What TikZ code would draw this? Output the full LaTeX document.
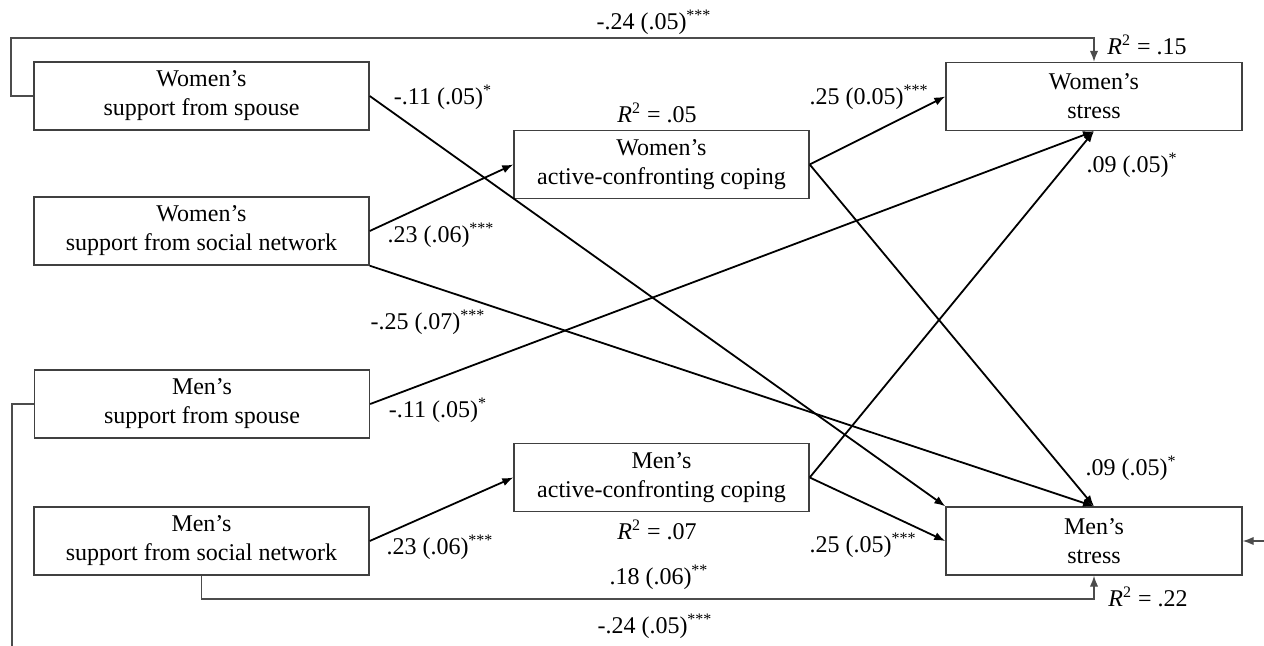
\documentclass[tikz,border=0pt]{standalone}
\usepackage{fontspec}
\setmainfont{Liberation Serif}
\usetikzlibrary{arrows.meta,calc}
\begin{document}
\begin{tikzpicture}[x=0.5pt,y=-0.5pt,
  box/.style={draw=black!75, line width=0.7pt, align=center, inner sep=0pt,
    font=\fontsize{12}{14.5}\selectfont},
  lbox/.style={box, minimum width=167.5pt, minimum height=34pt},
  cbox/.style={box, minimum width=147.5pt, minimum height=34pt},
  sbox/.style={box, minimum width=148pt, minimum height=34pt},
  arr/.style={-{Latex[length=5.5pt,width=4.2pt]}, line width=0.9pt},
  fb/.style={draw=black!70, line width=0.65pt},
  fbarr/.style={fb, -{Latex[length=5.5pt,width=4.2pt]}},
  lbl/.style={font=\fontsize{12}{14.5}\selectfont, inner sep=0pt}]
\useasboundingbox (0,0) rectangle (1264,646);

% boxes
\node[lbox] (ws) at (201.5,96) {Women’s\\support from spouse};
\node[lbox] (wn) at (201.5,231) {Women’s\\support from social network};
\node[lbox] (ms) at (202,404) {Men’s\\support from spouse};
\node[lbox] (mn) at (201.5,541) {Men’s\\support from social network};
\node[cbox] (wc) at (661.5,164.5) {Women’s\\active-confronting coping};
\node[cbox] (mc) at (661.5,477.5) {Men’s\\active-confronting coping};
\node[sbox] (wst) at (1094,96.5) {Women’s\\stress};
\node[sbox] (mst) at (1094,541) {Men’s\\stress};

% bend points
\coordinate (tl) at (11,38);
\coordinate (br) at (1094,599);
\coordinate (cutbl) at (12,646);
\coordinate (cutr) at (1264,541);

% direct paths
\draw[arr] (ws.east) -- (mst.north west);
\draw[arr] (wn.east) -- (wc.west);
\draw[arr] (wn.south east) -- (mst.north);
\draw[arr] (wc.east) -- (wst.west);
\draw[arr] (wc.east) -- (mst.north);
\draw[arr] (ms.east) -- (wst.south);
\draw[arr] (mc.east) -- (wst.south);
\draw[arr] (mc.east) -- (mst.west);
\draw[arr] (mn.east) -- (mc.west);

% feedback / side paths
\draw[fbarr] (ws.west) -| (tl) -| (wst.north);
\draw[fbarr] (mn.south) |- (br) -- (mst.south);
\draw[fb] (ms.west) -| (cutbl);
\draw[fbarr] (cutr) -- (mst.east);

% labels
\node[lbl] (l1) at (654,22) {-.24 (.05)\textsuperscript{***}};
\node[lbl] (l2) at (1147,45) {\textit{R}\textsuperscript{2} = .15};
\node[lbl] (l3) at (443,97) {-.11 (.05)\textsuperscript{*}};
\node[lbl] (l4) at (657,113) {\textit{R}\textsuperscript{2} = .05};
\node[lbl] (l5) at (869,97) {.25 (0.05)\textsuperscript{***}};
\node[lbl] (l6) at (1132,165) {.09 (.05)\textsuperscript{*}};
\node[lbl] (l7) at (441,235) {.23 (.06)\textsuperscript{***}};
\node[lbl] (l8) at (428,322) {-.25 (.07)\textsuperscript{***}};
\node[lbl] (l9) at (438,410) {-.11 (.05)\textsuperscript{*}};
\node[lbl] (l10) at (1131,468) {.09 (.05)\textsuperscript{*}};
\node[lbl] (l11) at (657,530) {\textit{R}\textsuperscript{2} = .07};
\node[lbl] (l12) at (863,545) {.25 (.05)\textsuperscript{***}};
\node[lbl] (l13) at (440,547) {.23 (.06)\textsuperscript{***}};
\node[lbl] (l14) at (659,577) {.18 (.06)\textsuperscript{**}};
\node[lbl] (l15) at (655,626) {-.24 (.05)\textsuperscript{***}};
\node[lbl] (l16) at (1148,597) {\textit{R}\textsuperscript{2} = .22};
\end{tikzpicture}
\end{document}
